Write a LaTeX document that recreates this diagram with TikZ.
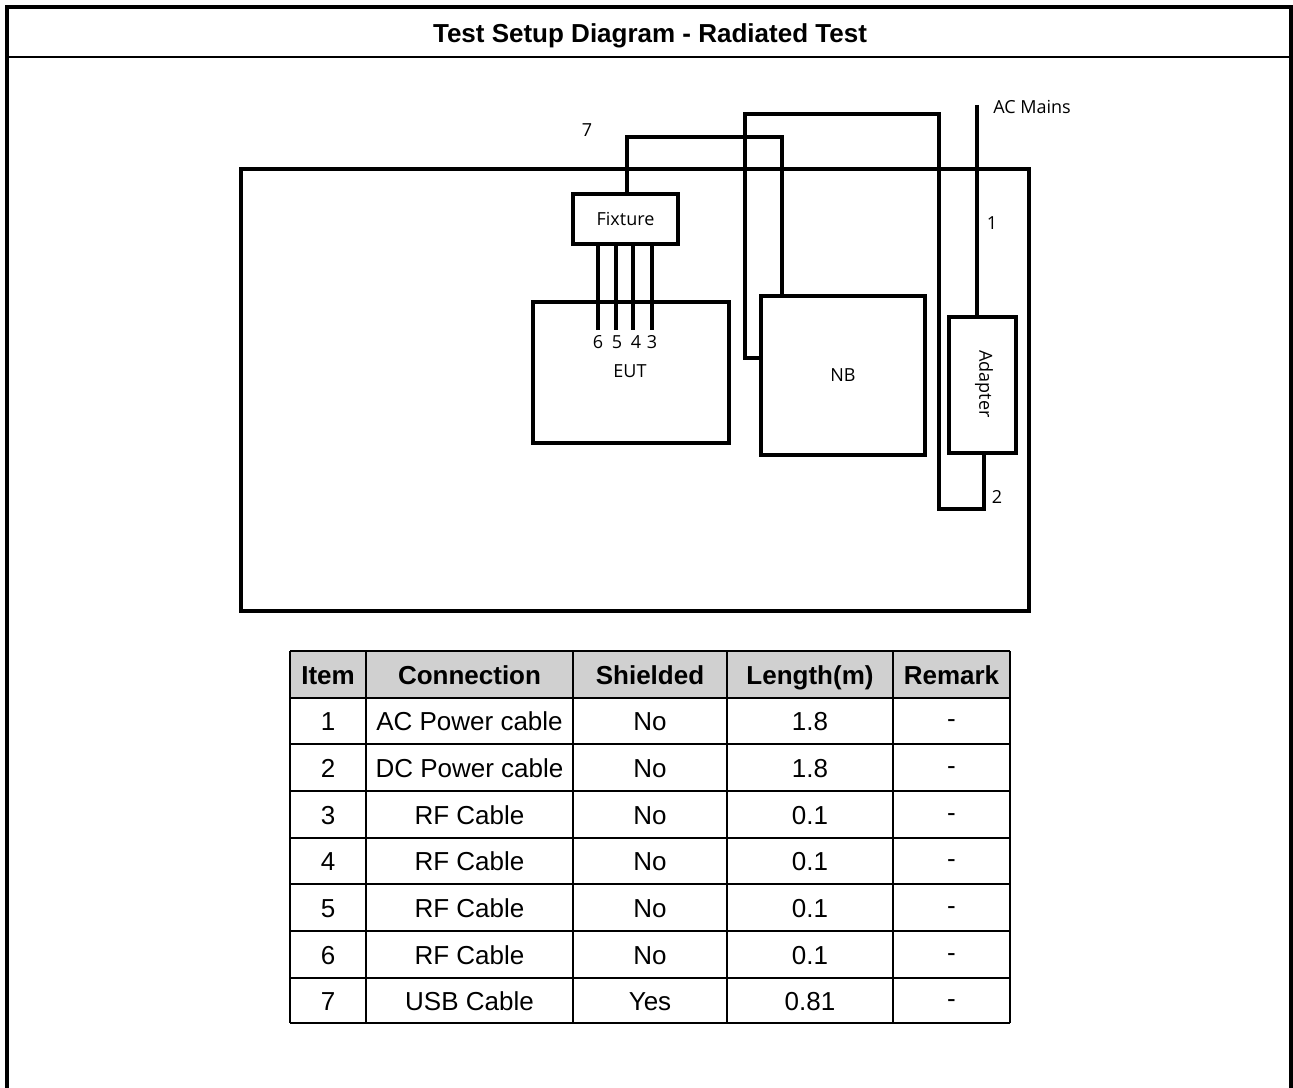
\documentclass[tikz,border=0pt]{standalone}
\usepackage{fontspec}
\setmainfont{Liberation Sans}
\newfontfamily\lblfont{Open Sans}
\definecolor{hdrgray}{RGB}{208,208,208}
\begin{document}
\begin{tikzpicture}[x=0.75pt,y=-0.75pt,
  box/.style={draw,line width=3pt,inner sep=0pt,outer sep=0pt,font=\lblfont\fontsize{13.5}{15}\selectfont},
  cable/.style={line width=3pt,line join=miter},
  lbl/.style={inner sep=0pt,font=\lblfont\fontsize{13.5}{15}\selectfont},
  cell/.style={inner sep=0pt,anchor=base,font=\fontsize{19.5}{23}\selectfont},
  hcell/.style={inner sep=0pt,anchor=base,font=\bfseries\fontsize{19.5}{23}\selectfont},
  grid/.style={line width=1.5pt}]
\useasboundingbox (0,0) rectangle (1293,1088);
% outer frame
\draw[line width=3pt] (7,1088) -- (7,7) -- (1291,7) -- (1291,1088);
\draw[line width=1.6pt] (7,57) -- (1291,57);
\node[inner sep=0pt,anchor=base,font=\bfseries\fontsize{19.5}{23}\selectfont] (title) at (650,43) {Test Setup Diagram - Radiated Test};
% bench
\node[box,line width=2.6pt,minimum width=591pt,minimum height=331.5pt] (bench) at (635,390) {};
% boxes
\node[box,minimum width=78.75pt,minimum height=37.5pt] (fix) at (625.5,219) {Fixture};
\node[box,minimum width=147pt,minimum height=105.75pt] (eut) at (631,372.5) {};
\node[lbl] (eutl) at (630,371) {EUT};
\node[box,minimum width=123pt,minimum height=119.25pt] (nb) at (843,375.5) {NB};
\node[box,minimum width=50.25pt,minimum height=102pt] (ad) at (982.5,385) {};
\node[lbl,rotate=-90] (adl) at (984,384) {Adapter};
% cable 7
\coordinate (c7a) at (627,137);
\coordinate (c7b) at (782,137);
\draw[cable] (fix.north -| c7a) -- (c7a) -- (c7b) -- (c7b |- nb.north);
\node[lbl] (l7) at (587,130) {7};
% cable 2
\coordinate (c2a) at (745,358);
\coordinate (c2b) at (745,114);
\coordinate (c2c) at (939,114);
\coordinate (c2d) at (939,509);
\coordinate (c2e) at (984,509);
\draw[cable] (nb.west |- c2a) -- (c2a) -- (c2b) -- (c2c) -- (c2d) -- (c2e) -- (c2e |- ad.south);
\node[lbl] (l2) at (997,497) {2};
% cable 1
\coordinate (c1a) at (977,105);
\draw[cable] (c1a) -- (c1a |- ad.north);
\node[lbl,anchor=west] (acm) at (993,107) {AC Mains};
\node[lbl] (l1) at (992,223) {1};
% RF legs
\foreach \x/\n/\lx in {598/6/598,616/5/617,633/4/636,652/3/652}{
  \coordinate (leg\n) at (\x,330);
  \draw[cable] (fix.south -| leg\n) -- (leg\n);
  \node[lbl] (ll\n) at (\lx,342) {\n};
}
% table
\fill[hdrgray] (290,651) rectangle (1010,698);
\foreach \y in {651,698,744,791,838,884,931,978,1023}
  \draw[grid] (290,\y) -- (1010,\y);
\foreach \x in {290,366,573,727,893,1010}
  \draw[grid] (\x,651) -- (\x,1023);
\node[hcell] (h1) at (328,684) {Item};
\node[hcell] (h2) at (469.5,684) {Connection};
\node[hcell] (h3) at (650,684) {Shielded};
\node[hcell] (h4) at (810,684) {Length(m)};
\node[hcell] (h5) at (951.5,684) {Remark};
\foreach \a/\b/\c/\d/\yy in {
  1/AC Power cable/No/1.8/730,
  2/DC Power cable/No/1.8/777,
  3/RF Cable/No/0.1/824,
  4/RF Cable/No/0.1/870.5,
  5/RF Cable/No/0.1/917,
  6/RF Cable/No/0.1/964,
  7/USB Cable/Yes/0.81/1010}{
  \node[cell] (r\a c1) at (328,\yy) {\a};
  \node[cell] (r\a c2) at (469.5,\yy) {\b};
  \node[cell] (r\a c3) at (650,\yy) {\c};
  \node[cell] (r\a c4) at (810,\yy) {\d};
  \node[cell] (r\a c5) at (951.5,\yy-3) {-};
}
\end{tikzpicture}
\end{document}
